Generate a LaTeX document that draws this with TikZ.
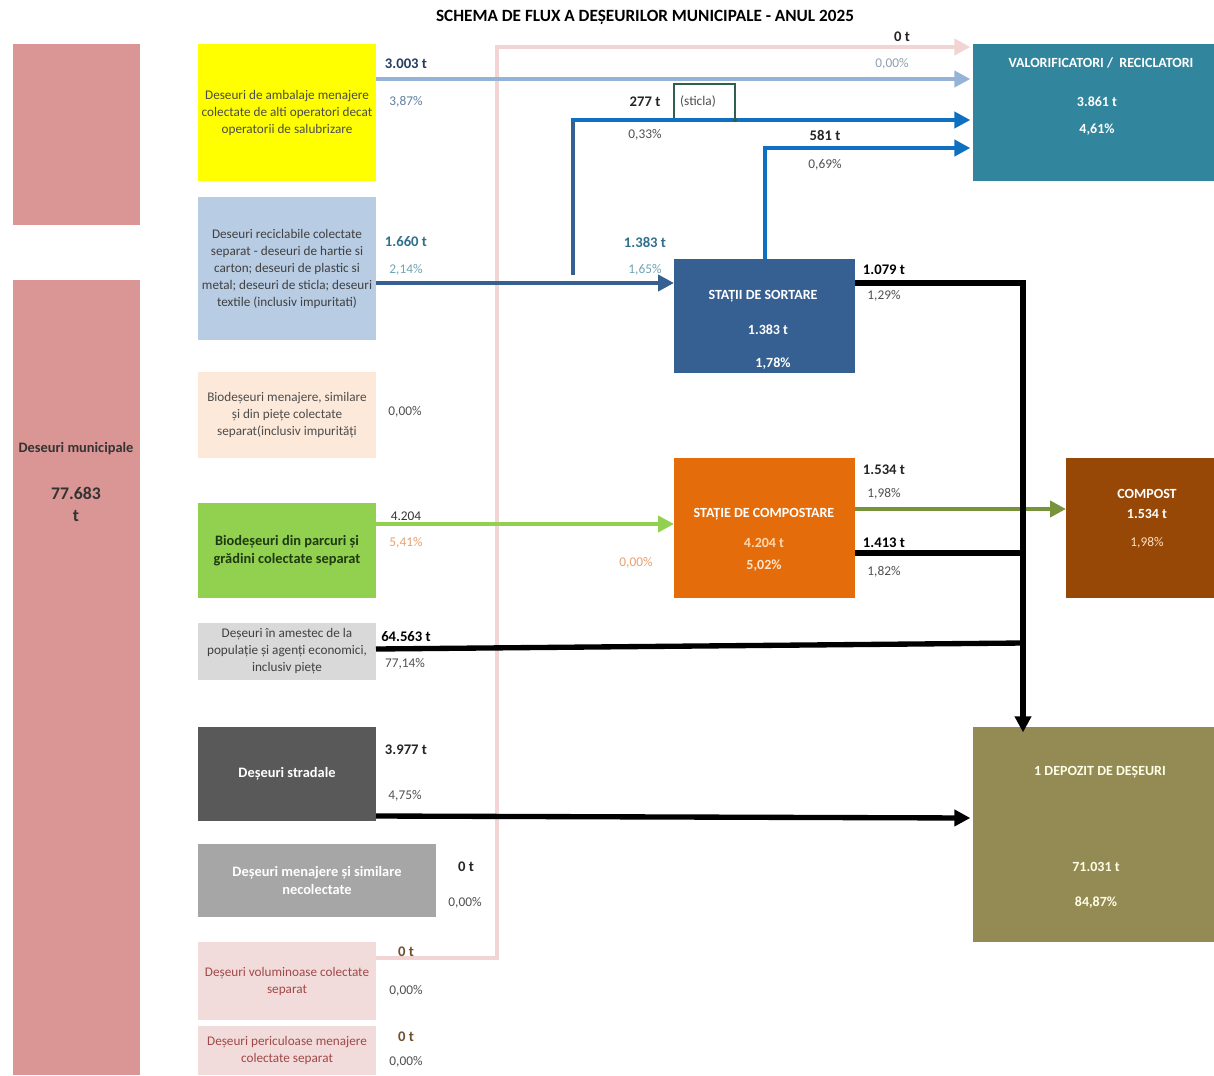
\documentclass[tikz,border=0pt]{standalone}
\usepackage{fontspec}
\setmainfont{Carlito}
\usetikzlibrary{arrows.meta}
\definecolor{cMun}{HTML}{D99694}
\definecolor{cYel}{HTML}{FFFF00}
\definecolor{cLBlue}{HTML}{B8CCE4}
\definecolor{cPeach}{HTML}{FDE9D9}
\definecolor{cGreen}{HTML}{92D050}
\definecolor{cLGray}{HTML}{D9D9D9}
\definecolor{cDGray}{HTML}{595959}
\definecolor{cMGray}{HTML}{A6A6A6}
\definecolor{cPink}{HTML}{F2DCDB}
\definecolor{cTeal}{HTML}{31859C}
\definecolor{cSort}{HTML}{376092}
\definecolor{cCompSt}{HTML}{E46C0A}
\definecolor{cCompost}{HTML}{974806}
\definecolor{cDep}{HTML}{948A54}
\definecolor{lPink}{HTML}{F2D4D4}
\definecolor{lLBlue}{HTML}{95B3D7}
\definecolor{lBlue}{HTML}{366092}
\definecolor{lBright}{HTML}{0F6FC0}
\definecolor{lOlive}{HTML}{77933C}
\definecolor{tSlate}{HTML}{243F60}
\definecolor{tSlateL}{HTML}{5F7F9F}
\definecolor{tTeal}{HTML}{31708C}
\definecolor{tTealL}{HTML}{6FA3B5}
\definecolor{tOrange}{HTML}{E8A070}
\definecolor{tGray}{HTML}{505050}
\definecolor{tLight}{HTML}{8FA0B0}
\definecolor{tRed}{HTML}{A04848}
\definecolor{tDGreen}{HTML}{1E3A10}
\definecolor{tBrown}{HTML}{6F5030}
\definecolor{tSticla}{HTML}{2F5F4F}
\newcommand\bx[7]{\node[boxbase,#6,minimum width={(#4-#2)*0.75pt},minimum height={(#5-#3)*0.75pt}] (#1) at ({(#2+#4)/2},{(#3+#5)/2}) {#7};}
\begin{document}
\begin{tikzpicture}[x=0.75pt,y=-0.75pt,
  boxbase/.style={rectangle,inner sep=0pt,outer sep=0pt,align=center},
  desc/.style={font=\fontsize{9.9}{12.75}\selectfont,text=tGray},
  descb/.style={font=\bfseries\fontsize{10.8}{13.5}\selectfont},
  inb/.style={font=\bfseries\fontsize{10.5}{12}\selectfont,text=white,inner sep=0pt},
  lbl/.style={font=\bfseries\fontsize{11}{13}\selectfont,text=black!85,inner sep=0pt},
  pct/.style={font=\fontsize{10}{12}\selectfont,text=tGray,inner sep=0pt},
  tip/.style={-{Triangle[length=12pt,width=12pt]}},
  flow/.style={line width=3.3pt,tip},
  blk/.style={line width=4pt,black}]
\useasboundingbox (0,0) rectangle (1214,1075);
\fill[white] (0,0) rectangle (1214,1075);

\node[font=\bfseries\fontsize{12.9}{15}\selectfont] (title) at (645,17) {SCHEMA DE FLUX A DEȘEURILOR MUNICIPALE - ANUL 2025};

% left municipal boxes
\bx{munA}{13}{44}{140}{225}{fill=cMun}{}
\bx{munB}{13}{280}{140}{1075}{fill=cMun}{}
\node[font=\bfseries\fontsize{10.8}{12}\selectfont,text=black!80] (munT) at (76,449) {Deseuri municipale};
\node[font=\bfseries\fontsize{13.3}{15}\selectfont,text=black!80] (munV) at (76,493) {77.683};
\node[font=\bfseries\fontsize{13.3}{15}\selectfont,text=black!80] (munU) at (76,516) {t};

% source boxes
\bx{yel}{198}{44}{376}{181}{fill=cYel,desc,text=black!70}{Deseuri de ambalaje menajere\\colectate de alti operatori decat\\operatorii de salubrizare}
\bx{rec}{198}{197}{376}{340}{fill=cLBlue,desc,text=black!75}{Deseuri reciclabile colectate\\separat - deseuri de hartie si\\carton; deseuri de plastic si\\metal; deseuri de sticla; deseuri\\textile (inclusiv impuritati)}
\bx{bio}{198}{372}{376}{458}{fill=cPeach,desc,text=black!70}{Biodeșeuri menajere, similare\\și din piețe colectate\\separat(inclusiv impurități}
\bx{grn}{198}{503}{376}{598}{fill=cGreen,descb,text=tDGreen}{Biodeșeuri din parcuri și\\grădini colectate separat}
\bx{mix}{198}{623}{376}{680}{fill=cLGray,desc,text=black!75}{Deșeuri în amestec de la\\populație și agenți economici,\\inclusiv piețe}
\bx{str}{198}{727}{376}{821}{fill=cDGray,descb,text=white}{Deșeuri stradale}
\bx{nec}{198}{844}{436}{917}{fill=cMGray,descb,text=white}{Deșeuri menajere și similare\\necolectate}
\bx{vol}{198}{942}{376}{1020}{fill=cPink,desc,text=tRed}{Deșeuri voluminoase colectate\\separat}
\bx{per}{198}{1026}{376}{1075}{fill=cPink,desc,text=tRed}{Deșeuri periculoase menajere\\colectate separat}

% destination boxes
\bx{val}{973}{44}{1214}{181}{fill=cTeal}{}
\bx{sort}{674}{259}{855}{373}{fill=cSort}{}
\bx{cmp}{674}{458}{855}{598}{fill=cCompSt}{}
\bx{cpst}{1066}{458}{1214}{598}{fill=cCompost}{}
\bx{dep}{973}{727}{1214}{942}{fill=cDep}{}

\node[inb] (valT) at (1101,63) {VALORIFICATORI /\ \ RECICLATORI};
\node[inb] (valV) at (1097,102) {3.861 t};
\node[inb] (valP) at (1097,130) {4,61\%};
\node[inb] (sortT) at (763,296) {STAȚII DE SORTARE};
\node[inb] (sortV) at (768,330) {1.383 t};
\node[inb] (sortP) at (773,364) {1,78\%};
\node[inb] (cmpT) at (764,514) {STAȚIE DE COMPOSTARE};
\node[inb,text=orange!30] (cmpV) at (764,543) {4.204 t};
\node[inb,text=orange!20] (cmpP) at (764,566) {5,02\%};
\node[inb] (cpstT) at (1147,494) {COMPOST};
\node[inb] (cpstV) at (1147,514) {1.534 t};
\node[inb,font=\fontsize{10}{12}\selectfont,text=orange!25] (cpstP) at (1147,543) {1,98\%};
\node[inb,text=yellow!10] (depT) at (1100,772) {1 DEPOZIT DE DEȘEURI};
\node[inb,text=yellow!10] (depV) at (1096,867) {71.031 t};
\node[inb,text=yellow!10] (depP) at (1096,903) {84,87\%};

% sticla box
\bx{sticla}{674}{84}{735}{120}{draw=tSticla,line width=1.2pt}{}
\node[font=\fontsize{10}{12}\selectfont,text=black!70,inner sep=0pt] (sticlaT) at (698,102) {(sticla)};

% coordinates
\coordinate (pk1) at (497,958);
\coordinate (pk2) at (497,47);
\coordinate (b1) at (573,275);
\coordinate (b2) at (573,120);
\coordinate (s1) at (765,148);
\coordinate (j1) at (1023,283);
\coordinate (j2) at (1023,553);
\coordinate (j3) at (1023,643);

% flows
\draw[flow,lPink,line width=3pt,line join=miter] (vol.east |- pk1) -- (pk1) -- (pk2) -- ([xshift=-2pt]val.west |- pk2);
\draw[flow,lLBlue] (yel.east |- 0,79) -- ([xshift=-2pt]val.west |- 0,79);
\draw[flow,lBlue] (rec.east |- 0,283) -- (sort.west |- 0,283);
\draw[line width=3.3pt,lBlue] (b1) -- ([yshift=-1.6pt]b2);
\draw[flow,lBright] ([xshift=-1.6pt]b2) -- ([xshift=-2pt]val.west |- b2);
\draw[flow,lBright,line join=miter] (sort.north -| s1) -- (s1) -- ([xshift=-2pt]val.west |- s1);
\fill[tSticla] (735,120) circle (2.2);
\draw[flow,cGreen] (grn.east |- 0,524) -- (cmp.west |- 0,524);
\draw[flow,lOlive] (cmp.east |- 0,509) -- (cpst.west |- 0,509);
\draw[blk,line join=miter,tip] (sort.east |- j1) -- (j1) -- ([yshift=-4pt]j1 |- dep.north);
\draw[blk] (cmp.east |- j2) -- (j2);
\draw[blk] (mix.east |- 0,649) -- (j3);
\draw[blk,tip] (str.east |- 0,816) -- ([xshift=-2pt]dep.west |- 0,818);

% labels
\node[lbl,text=tSlate] (l3003) at (406,64) {3.003 t};
\node[pct,text=tSlateL] (p387) at (406,102) {3,87\%};
\node[lbl] (l0top) at (902,37) {0 t};
\node[pct,text=tLight] (p0top) at (892,64) {0,00\%};
\node[lbl] (l277) at (645,102) {277 t};
\node[pct] (p033) at (645,135) {0,33\%};
\node[lbl] (l581) at (825,135) {581 t};
\node[pct] (p069) at (825,165) {0,69\%};
\node[lbl,text=tTeal] (l1660) at (406,242) {1.660 t};
\node[pct,text=tTealL] (p214) at (406,270) {2,14\%};
\node[lbl,text=tTeal] (l1383) at (645,242) {1.383 t};
\node[pct,text=tTealL] (p165) at (645,270) {1,65\%};
\node[pct] (pbio) at (405,412) {0,00\%};
\node[pct,text=black!80] (l4204) at (406,516) {4.204};
\node[pct,text=tOrange] (p541) at (406,543) {5,41\%};
\node[pct,text=tOrange] (p000c) at (636,563) {0,00\%};
\node[lbl,text=black] (l64563) at (406,637) {64.563 t};
\node[pct] (p7714) at (405,664) {77,14\%};
\node[lbl,text=black] (l1079) at (884,270) {1.079 t};
\node[pct] (p129) at (884,296) {1,29\%};
\node[lbl] (l1534) at (884,470) {1.534 t};
\node[pct] (p198) at (884,494) {1,98\%};
\node[lbl,text=black] (l1413) at (884,543) {1.413 t};
\node[pct] (p182) at (884,572) {1,82\%};
\node[lbl] (l3977) at (406,750) {3.977 t};
\node[pct] (p475) at (405,796) {4,75\%};
\node[lbl] (l0nec) at (466,867) {0 t};
\node[pct] (p0nec) at (465,903) {0,00\%};
\node[lbl,text=tBrown] (l0vol) at (406,952) {0 t};
\node[pct] (p0vol) at (406,991) {0,00\%};
\node[lbl,text=tBrown] (l0per) at (406,1037) {0 t};
\node[pct] (p0per) at (406,1062) {0,00\%};
\end{tikzpicture}
\end{document}
